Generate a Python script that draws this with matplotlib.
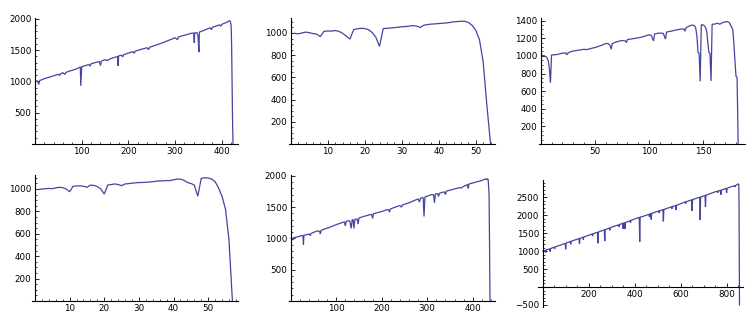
import matplotlib
matplotlib.use("Agg")
import matplotlib.pyplot as plt
from matplotlib.ticker import FixedLocator, MultipleLocator

# ---------------- data ----------------
p1_x = [1, 5, 8, 10, 20, 30, 40, 50, 53, 55, 60, 64, 66, 75, 80, 90, 97, 98, 100, 110, 115, 118, 120,
        130, 138, 140, 142, 150, 155, 160, 170, 177, 178, 179, 185, 188, 190, 200, 210, 212, 215, 230,
        240, 243, 246, 260, 270, 280, 300, 305, 307, 320, 335, 340, 341, 342, 347, 349, 350, 351, 352,
        360, 375, 378, 380, 395, 398, 400, 410, 416, 418, 420, 421, 422, 423, 424]
p1_y = [1000, 1010, 955, 1015, 1045, 1068, 1092, 1115, 1095, 1125, 1140, 1112, 1145, 1170, 1180, 1205,
        1232, 930, 1238, 1258, 1272, 1245, 1283, 1305, 1320, 1255, 1325, 1350, 1335, 1360, 1385, 1400,
        1250, 1410, 1420, 1395, 1430, 1455, 1478, 1450, 1487, 1520, 1540, 1510, 1550, 1585, 1610, 1640,
        1700, 1668, 1712, 1740, 1772, 1775, 1620, 1778, 1782, 1730, 1600, 1470, 1790, 1812, 1860, 1830,
        1868, 1905, 1885, 1915, 1945, 1972, 1965, 1900, 1600, 1000, 400, 0]

p2_x = list(range(1, 55))
p2_y = [997, 992, 1000, 1008, 1003, 995, 990, 968, 1015, 1018, 1017, 1022, 1015, 998, 972, 945,
        1030, 1038, 1042, 1040, 1030, 1005, 962, 880, 1040, 1042, 1045, 1048, 1052, 1056, 1058,
        1062, 1066, 1062, 1050, 1070, 1076, 1080, 1082, 1085, 1088, 1090, 1095, 1100, 1103, 1106,
        1105, 1095, 1070, 1025, 940, 740, 350, 0]

p3_x = [1, 3, 5, 6, 7, 8, 9, 10, 12, 15, 18, 20, 23, 24, 25, 27, 30, 35, 40, 42, 45, 50, 55, 58, 60,
        62, 64, 65, 66, 70, 75, 78, 79, 80, 85, 90, 95, 100, 102, 104, 105, 110, 113, 115, 116, 120,
        125, 130, 132, 133, 134, 138, 140, 142, 143, 144, 145, 146, 147, 148, 149, 151, 152, 153, 154,
        155, 156, 157, 158, 160, 163, 165, 166, 168, 170, 172, 174, 175, 177, 178, 179, 180, 181, 182]
p3_y = [1005, 1003, 990, 975, 940, 860, 695, 1010, 1012, 1015, 1025, 1030, 1035, 1012, 1030, 1045,
        1055, 1065, 1075, 1070, 1080, 1095, 1115, 1130, 1140, 1140, 1120, 1075, 1140, 1160, 1175,
        1170, 1150, 1185, 1195, 1205, 1220, 1240, 1230, 1170, 1250, 1260, 1255, 1190, 1270, 1280,
        1295, 1305, 1305, 1280, 1320, 1345, 1350, 1340, 1310, 1220, 1040, 1030, 710, 1350, 1355,
        1340, 1320, 1280, 1160, 1040, 1030, 715, 1360, 1360, 1370, 1360, 1365, 1380, 1385, 1390,
        1375, 1350, 1300, 1150, 950, 770, 755, 0]

p4_x = list(range(1, 58))
p4_y = [995, 1000, 1003, 1005, 1003, 1010, 1015, 1012, 1000, 975, 1025, 1027, 1028, 1025, 1015,
        1035, 1032, 1022, 1000, 955, 1035, 1040, 1045, 1040, 1030, 1045, 1048, 1052, 1055, 1058,
        1058, 1060, 1062, 1065, 1070, 1072, 1073, 1075, 1075, 1082, 1088, 1088, 1078, 1058, 1050,
        1035, 935, 1095, 1100, 1098, 1088, 1065, 1010, 935, 820, 550, 0]

p5_x = [1, 4, 5, 7, 15, 20, 25, 27, 28, 29, 35, 40, 43, 45, 55, 60, 64, 65, 67, 75, 80, 85, 90, 100,
        110, 118, 120, 122, 128, 130, 133, 135, 137, 139, 141, 146, 148, 150, 160, 170, 178, 180, 182,
        190, 200, 210, 215, 217, 219, 230, 240, 243, 246, 260, 270, 280, 283, 285, 291, 293, 295, 300,
        310, 314, 316, 318, 323, 325, 327, 335, 338, 340, 342, 350, 360, 370, 375, 380, 389, 390, 392,
        400, 410, 420, 425, 428, 430, 432, 434, 436, 437, 438]
p5_y = [1000, 1005, 975, 1010, 1025, 1035, 1045, 1040, 900, 1050, 1060, 1070, 1045, 1080, 1110, 1120,
        1110, 1070, 1130, 1150, 1165, 1175, 1190, 1220, 1245, 1265, 1200, 1270, 1285, 1270, 1160, 1295,
        1300, 1160, 1305, 1310, 1230, 1325, 1350, 1370, 1385, 1320, 1395, 1410, 1430, 1455, 1460, 1420,
        1470, 1500, 1525, 1500, 1535, 1570, 1600, 1630, 1580, 1640, 1655, 1350, 1660, 1675, 1700, 1700,
        1570, 1710, 1715, 1670, 1720, 1740, 1740, 1700, 1755, 1770, 1790, 1810, 1805, 1830, 1860, 1800,
        1870, 1885, 1905, 1925, 1940, 1950, 1935, 1955, 1940, 1700, 900, 0]

p6_x = [1, 12, 14, 16, 30, 32, 34, 50, 52, 54, 70, 98, 100, 102, 120, 122, 124, 140, 158, 160, 162,
        175, 177, 179, 200, 215, 217, 219, 238, 240, 242, 258, 268, 270, 272, 290, 292, 294, 310, 330,
        332, 334, 348, 350, 352, 356, 358, 360, 380, 382, 384, 400, 418, 420, 422, 424, 440, 462, 464,
        466, 470, 472, 474, 490, 505, 507, 509, 523, 525, 527, 545, 560, 562, 564, 578, 580, 582, 600,
        620, 622, 624, 640, 648, 650, 652, 665, 683, 685, 687, 695, 706, 708, 710, 730, 745, 760, 762,
        764, 773, 775, 777, 790, 798, 800, 802, 820, 835, 837, 839, 850, 853, 854, 855, 856]
p6_y = [1000, 1020, 960, 1035, 1060, 990, 1070, 1110, 1060, 1120, 1150, 1215, 1050, 1225, 1265, 1190,
        1275, 1310, 1345, 1200, 1355, 1385, 1320, 1395, 1440, 1475, 1420, 1485, 1525, 1220, 1530, 1570,
        1590, 1280, 1600, 1640, 1580, 1650, 1690, 1730, 1680, 1740, 1775, 1620, 1780, 1790, 1620, 1795,
        1845, 1790, 1855, 1895, 1935, 1940, 1260, 1945, 1975, 2025, 1960, 2035, 2045, 1880, 2050, 2085,
        2120, 2060, 2125, 2155, 1830, 2160, 2200, 2235, 2180, 2240, 2270, 2150, 2275, 2320, 2370, 2320,
        2375, 2410, 2430, 2120, 2435, 2465, 2500, 1870, 2510, 2525, 2550, 2230, 2555, 2605, 2640, 2670,
        2630, 2675, 2695, 2570, 2700, 2725, 2745, 2620, 2750, 2795, 2820, 2790, 2825, 2870, 2860, 2400,
        1000, -500]

p1_xticks = [100, 200, 300, 400]
p1_yticks = [500, 1000, 1500, 2000]
p2_xticks = [10, 20, 30, 40, 50]
p2_yticks = [200, 400, 600, 800, 1000]
p3_xticks = [50, 100, 150]
p3_yticks = [200, 400, 600, 800, 1000, 1200, 1400]
p4_xticks = [10, 20, 30, 40, 50]
p4_yticks = [200, 400, 600, 800, 1000]
p5_xticks = [100, 200, 300, 400]
p5_yticks = [500, 1000, 1500, 2000]
p6_xticks = [200, 400, 600, 800]
p6_yticks = [-500, 500, 1000, 1500, 2000, 2500]

LINE = "#45459f"
W, H = 754, 330

fig = plt.figure(figsize=(W / 100, H / 100), dpi=100)


def panel(box, xlim, ylim, xs, ys, xt, yt, xminor, yminor):
    l, r, t, b = box
    ax = fig.add_axes([l / W, 1 - b / H, (r - l) / W, (b - t) / H])
    ax.plot(xs, ys, color=LINE, lw=0.9, solid_joinstyle="miter", clip_on=False)
    ax.set_xlim(*xlim)
    ax.set_ylim(*ylim)
    for s in ("top", "right"):
        ax.spines[s].set_visible(False)
    ax.spines["left"].set_position(("data", 0))
    ax.spines["bottom"].set_position(("data", 0))
    for s in ("left", "bottom"):
        ax.spines[s].set_linewidth(0.8)
        ax.spines[s].set_color("black")
    ax.xaxis.set_major_locator(FixedLocator(xt))
    ax.yaxis.set_major_locator(FixedLocator(yt))
    ax.set_xticklabels([str(v) for v in xt])
    ax.set_yticklabels([("\u2212" + str(-v)) if v < 0 else str(v) for v in yt])
    ax.xaxis.set_minor_locator(MultipleLocator(xminor))
    ax.yaxis.set_minor_locator(MultipleLocator(yminor))
    ax.tick_params(which="major", direction="in", length=3.2, width=0.6, labelsize=6.3, pad=2.5)
    ax.tick_params(which="minor", direction="in", length=1.6, width=0.5)
    ax.patch.set_alpha(0)
    return ax


panel((31.7, 238, 18, 144), (-7.1, 434.7), (0, 2016), p1_x, p1_y, p1_xticks, p1_yticks, 20, 100)
panel((289.3, 495, 18, 144), (-0.38, 55.2), (0, 1135), p2_x, p2_y, p2_xticks, p2_yticks, 2, 50)
panel((539.3, 745, 18, 144), (-1.28, 188.3), (0, 1430), p3_x, p3_y, p3_xticks, p3_yticks, 10, 50)
panel((32.3, 238.3, 175, 301), (-0.78, 58.7), (0, 1125), p4_x, p4_y, p4_xticks, p4_yticks, 2, 50)
panel((289.3, 495, 175, 301), (-3.1, 449), (0, 2013), p5_x, p5_y, p5_xticks, p5_yticks, 20, 100)
panel((538, 743.3, 180, 306.7), (-20.4, 872.6), (-549, 2981), p6_x, p6_y, p6_xticks, p6_yticks, 50, 100)

fig.savefig("out.png", dpi=100)
